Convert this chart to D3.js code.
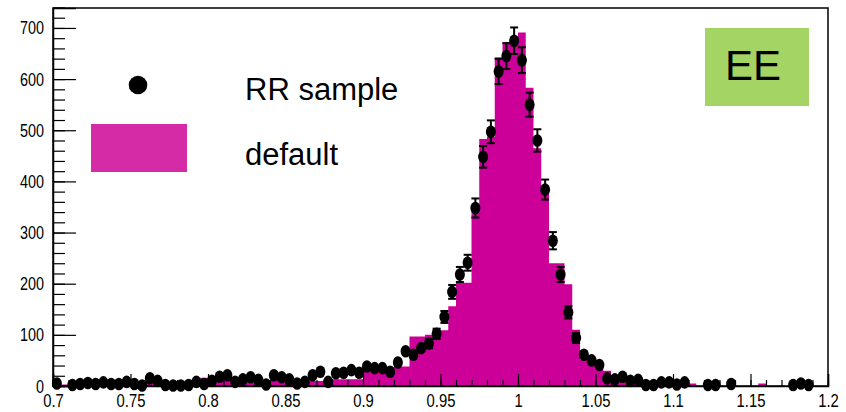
<!DOCTYPE html>
<html>
<head>
<meta charset="utf-8">
<script src="https://cdn.jsdelivr.net/npm/d3@7"></script>
<style>
  html, body { margin: 0; padding: 0; background: #fff; }
  svg { display: block; }
</style>
</head>
<body>
<svg id="chart" width="846" height="412"></svg>
<script>
// ---- data (bins of width 0.005 from 0.70 to 1.20) ----
const binStart = 0.7;
const binWidth = 0.005;
// RR sample (points with sqrt(N) error bars); null = empty bin
const sampleCounts = [
  5, null, 2, 4, 6, 4, 7, 4, 4, 8,
  4, 1, 15, 10, 2, 1, 1, 2, 8, 4,
  10, 18, 21, 8, 13, 17, 12, 3, 21, 17,
  13, 5, 8, 21, 28, 8, 25, 26, 31, 26,
  38, 35, 35, 28, 46, 68, 61, 74, 83, 102,
  135, 184, 218, 241, 348, 448, 497, 615, 645, 675,
  637, 550, 480, 384, 284, 218, 144, 94, 61, 50,
  41, 15, 13, 18, 10, 12, 2, 2, 7, 7,
  3, 7, null, null, 2, 2, null, 4, null, null,
  null, null, null, null, null, 2, 5, 2, null, null
];
// default (filled histogram)
const defaultCounts = [
  4, 3, 4, 5, 4, 5, 4, 4, 5, 4,
  5, 4, 6, 6, 5, 4, 5, 6, 7, 16,
  10, 12, 12, 10, 9, 10, 10, 9, 12, 12,
  12, 12, 9, 10, 10, 10, 13, 13, 13, 13,
  33, 33, 33, 33, 38, 38, 97, 97, 100, 100,
  109, 156, 202, 202, 345, 483, 487, 642, 671, 671,
  691, 583, 465, 379, 240, 240, 199, 110, 51, 51,
  35, 30, 12, 10, 8, 8, 5, 5, 4, 4,
  3, 3, 5, 0, 2, 0, 0, 2, 0, 0,
  0, 5, 0, 0, 0, 0, 0, 0, 0, 0
];
const xTickValues = [0.7, 0.75, 0.8, 0.85, 0.9, 0.95, 1, 1.05, 1.1, 1.15, 1.2];
const xTickLabels = ["0.7", "0.75", "0.8", "0.85", "0.9", "0.95", "1", "1.05", "1.1", "1.15", "1.2"];
const yTickValues = [0, 100, 200, 300, 400, 500, 600, 700];
const legendLabels = ["RR sample", "default"];
const tagLabel = "EE";

// ---- layout ----
const svg = d3.select("#chart");
const L = 53, R = 828, T = 8, B = 386;
const x = d3.scaleLinear().domain([0.7, 1.2]).range([L, R]);
const y = d3.scaleLinear().domain([0, 739]).range([B, T]);
const histColor = "#cc0099";

// histogram (step area)
const histPts = defaultCounts.map((v, i) => ({ x: binStart + i * binWidth, v }));
histPts.push({ x: binStart + defaultCounts.length * binWidth, v: defaultCounts[defaultCounts.length - 1] });
const area = d3.area()
  .x(d => x(d.x))
  .y0(y(0))
  .y1(d => y(d.v))
  .curve(d3.curveStepAfter);
svg.append("path").datum(histPts)
  .attr("d", area)
  .attr("fill", histColor);

// data points
const pts = sampleCounts.map((v, i) => ({ c: binStart + (i + 0.5) * binWidth, v }))
  .filter(d => d.v !== null);
const gp = svg.append("g");
const capW = 4;
pts.forEach(d => {
  const e = Math.sqrt(d.v);
  const cx = x(d.c);
  const y1 = y(d.v + e), y2 = y(Math.max(0, d.v - e));
  if (y2 - y1 > 9) {
    gp.append("line").attr("x1", cx).attr("x2", cx).attr("y1", y1).attr("y2", y2)
      .attr("stroke", "#000").attr("stroke-width", 2);
    gp.append("line").attr("x1", cx - capW).attr("x2", cx + capW).attr("y1", y1).attr("y2", y1)
      .attr("stroke", "#000").attr("stroke-width", 2);
    gp.append("line").attr("x1", cx - capW).attr("x2", cx + capW).attr("y1", y2).attr("y2", y2)
      .attr("stroke", "#000").attr("stroke-width", 2);
  }
  gp.append("ellipse").attr("cx", cx).attr("cy", y(d.v)).attr("rx", 5).attr("ry", 6.3).attr("fill", "#000");
});

// frame
svg.append("rect").attr("x", L).attr("y", T).attr("width", R - L).attr("height", B - T)
  .attr("fill", "none").attr("stroke", "#000").attr("stroke-width", 1.5);

const fontFam = "'Liberation Sans', Arial, Helvetica, sans-serif";

// x axis: minor ticks
const xMinor = d3.range(0, 51).map(i => 0.7 + i * 0.01);
svg.append("g").attr("transform", `translate(0,${B})`)
  .call(d3.axisBottom(x).tickValues(xMinor).tickSize(-6).tickFormat(""))
  .call(g => g.select(".domain").remove())
  .call(g => g.selectAll("line").attr("stroke", "#000").attr("stroke-width", 1.2));
// x axis: major ticks + labels
const gx = svg.append("g").attr("transform", `translate(0,${B})`)
  .call(d3.axisBottom(x).tickValues(xTickValues).tickSize(-12).tickPadding(0)
    .tickFormat((d, i) => xTickLabels[i]));
gx.select(".domain").attr("stroke", "#000").attr("stroke-width", 1.5);
gx.selectAll("line").attr("stroke", "#000").attr("stroke-width", 1.2);
gx.selectAll("text")
  .attr("y", 0).attr("dy", 0)
  .attr("transform", "translate(0,21) scale(0.78,1)")
  .attr("font-family", fontFam).attr("font-size", 19).attr("fill", "#000");

// y axis: minor ticks
const yMinor = d3.range(0, 38).map(i => i * 20);
svg.append("g").attr("transform", `translate(${L},0)`)
  .call(d3.axisLeft(y).tickValues(yMinor).tickSize(-12).tickFormat(""))
  .call(g => g.select(".domain").remove())
  .call(g => g.selectAll("line").attr("stroke", "#000").attr("stroke-width", 1.2));
const gy = svg.append("g").attr("transform", `translate(${L},0)`)
  .call(d3.axisLeft(y).tickValues(yTickValues).tickSize(-23).tickPadding(0)
    .tickFormat(d3.format("d")));
gy.select(".domain").attr("stroke", "#000").attr("stroke-width", 1.5);
gy.selectAll("line").attr("stroke", "#000").attr("stroke-width", 1.2);
gy.selectAll("text")
  .attr("x", 0).attr("dy", 0)
  .attr("transform", "translate(-9,6) scale(0.8,1)")
  .attr("text-anchor", "end")
  .attr("font-family", fontFam).attr("font-size", 18).attr("fill", "#000");

// legend
svg.append("circle").attr("cx", 138).attr("cy", 85).attr("r", 9.3).attr("fill", "#000");
svg.append("rect").attr("x", 91).attr("y", 124).attr("width", 96).attr("height", 48).attr("fill", "#d52ba6");
svg.append("text").attr("x", 245).attr("y", 100).text(legendLabels[0])
  .attr("font-family", fontFam).attr("font-size", 31).attr("fill", "#000");
svg.append("text").attr("x", 245).attr("y", 165).text(legendLabels[1])
  .attr("font-family", fontFam).attr("font-size", 31).attr("fill", "#000");

// EE tag
svg.append("rect").attr("x", 705).attr("y", 28).attr("width", 104).attr("height", 78).attr("fill", "#a3d464");
svg.append("text").attr("x", 753).attr("y", 80).attr("text-anchor", "middle").text(tagLabel)
  .attr("font-family", fontFam).attr("font-size", 42).attr("fill", "#000");
</script>
</body>
</html>
